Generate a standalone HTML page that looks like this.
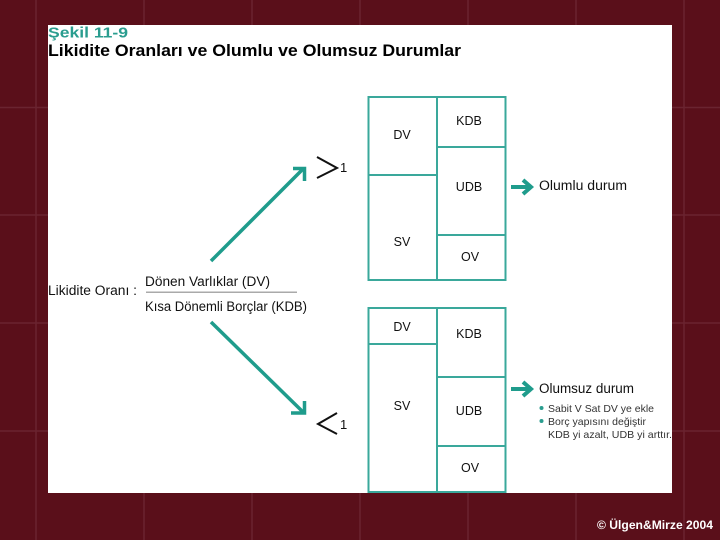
<!DOCTYPE html>
<html><head><meta charset="utf-8"><style>
html,body{margin:0;padding:0;background:#5a0f1a}
svg{display:block;width:720px;height:540px}
text{font-family:"Liberation Sans",sans-serif;fill:#111}
</style></head><body>
<svg width="720" height="540" viewBox="0 0 720 540" xmlns="http://www.w3.org/2000/svg">
<rect width="720" height="540" fill="#5a0f1a"/>
<g stroke="#6a2430" stroke-width="1.500" fill="none">
<path d="M36 0V540M144 0V540M252 0V540M360 0V540M468 0V540M576 0V540M684 0V540"/>
<path d="M0 107.500H720M0 215H720M0 323H720M0 431H720"/>
</g>
<rect x="48" y="25" width="624" height="468" fill="#fff"/>

<text x="48" y="37.500" font-size="15" font-weight="bold" style="fill:#2a9d8f" textLength="80" lengthAdjust="spacingAndGlyphs">Şekil 11-9</text>
<text x="48" y="56" font-size="16.500" font-weight="bold" style="fill:#000" textLength="413" lengthAdjust="spacingAndGlyphs">Likidite Oranları ve Olumlu ve Olumsuz Durumlar</text>

<g fill="none" stroke="#3aa89b" stroke-width="2">
<rect x="368.500" y="97" width="137" height="183"/>
<path d="M437 97V280M368 175H437M437 147H505M437 235H505"/>
<rect x="368.500" y="308" width="137" height="184"/>
<path d="M437 308V492M368 344H437M437 377H505M437 446H505"/>
</g>

<g font-size="12.500" text-anchor="middle">
<text x="402" y="139">DV</text>
<text x="469" y="125">KDB</text>
<text x="469" y="191">UDB</text>
<text x="402" y="246">SV</text>
<text x="470" y="261">OV</text>
<text x="402" y="331">DV</text>
<text x="469" y="338">KDB</text>
<text x="402" y="410">SV</text>
<text x="469" y="415">UDB</text>
<text x="470" y="472">OV</text>
</g>

<g fill="none" stroke="#1f9c8c" stroke-width="3.500">
<path d="M211 261L303 169"/>
<path d="M293 168.500H304.500V181"/>
<path d="M211 322L303 412"/>
<path d="M291 413H304.500V401"/>
<path d="M511 187H530" stroke-width="4"/>
<path d="M523 180L531 187L523 194" stroke-width="4"/>
<path d="M511 389H530" stroke-width="4"/>
<path d="M523 382L531 389L523 396" stroke-width="4"/>
</g>

<g fill="none" stroke="#111" stroke-width="2">
<path d="M317 157L337 168L317 178"/>
<path d="M337 413L318 424L337 434"/>
</g>
<text x="340" y="172" font-size="13">1</text>
<text x="340" y="429" font-size="13">1</text>

<text x="48" y="295" font-size="13.500" textLength="89" lengthAdjust="spacingAndGlyphs">Likidite Oranı :</text>
<text x="145" y="286" font-size="13.500" textLength="125" lengthAdjust="spacingAndGlyphs">Dönen Varlıklar (DV)</text>
<rect x="146" y="291.500" width="151" height="1.500" fill="#aaa"/>
<text x="145" y="311" font-size="13.500" textLength="162" lengthAdjust="spacingAndGlyphs">Kısa Dönemli Borçlar (KDB)</text>

<text x="539" y="190" font-size="13.500" textLength="88" lengthAdjust="spacingAndGlyphs">Olumlu durum</text>
<text x="539" y="393" font-size="13.500" textLength="95" lengthAdjust="spacingAndGlyphs">Olumsuz durum</text>

<circle cx="541.500" cy="408" r="2" fill="#2a9d8f"/>
<circle cx="541.500" cy="421" r="2" fill="#2a9d8f"/>
<text x="548" y="412" font-size="10.500" style="fill:#333" textLength="106" lengthAdjust="spacingAndGlyphs">Sabit V Sat DV ye ekle</text>
<text x="548" y="425" font-size="10.500" style="fill:#333" textLength="98" lengthAdjust="spacingAndGlyphs">Borç yapısını değiştir</text>
<text x="548" y="438" font-size="10.500" style="fill:#333" textLength="124" lengthAdjust="spacingAndGlyphs">KDB yi azalt, UDB yi arttır.</text>

<text x="597" y="529" font-size="11.500" font-weight="bold" style="fill:#fff" textLength="116" lengthAdjust="spacingAndGlyphs">© Ülgen&amp;Mirze 2004</text>
</svg>
</body></html>
